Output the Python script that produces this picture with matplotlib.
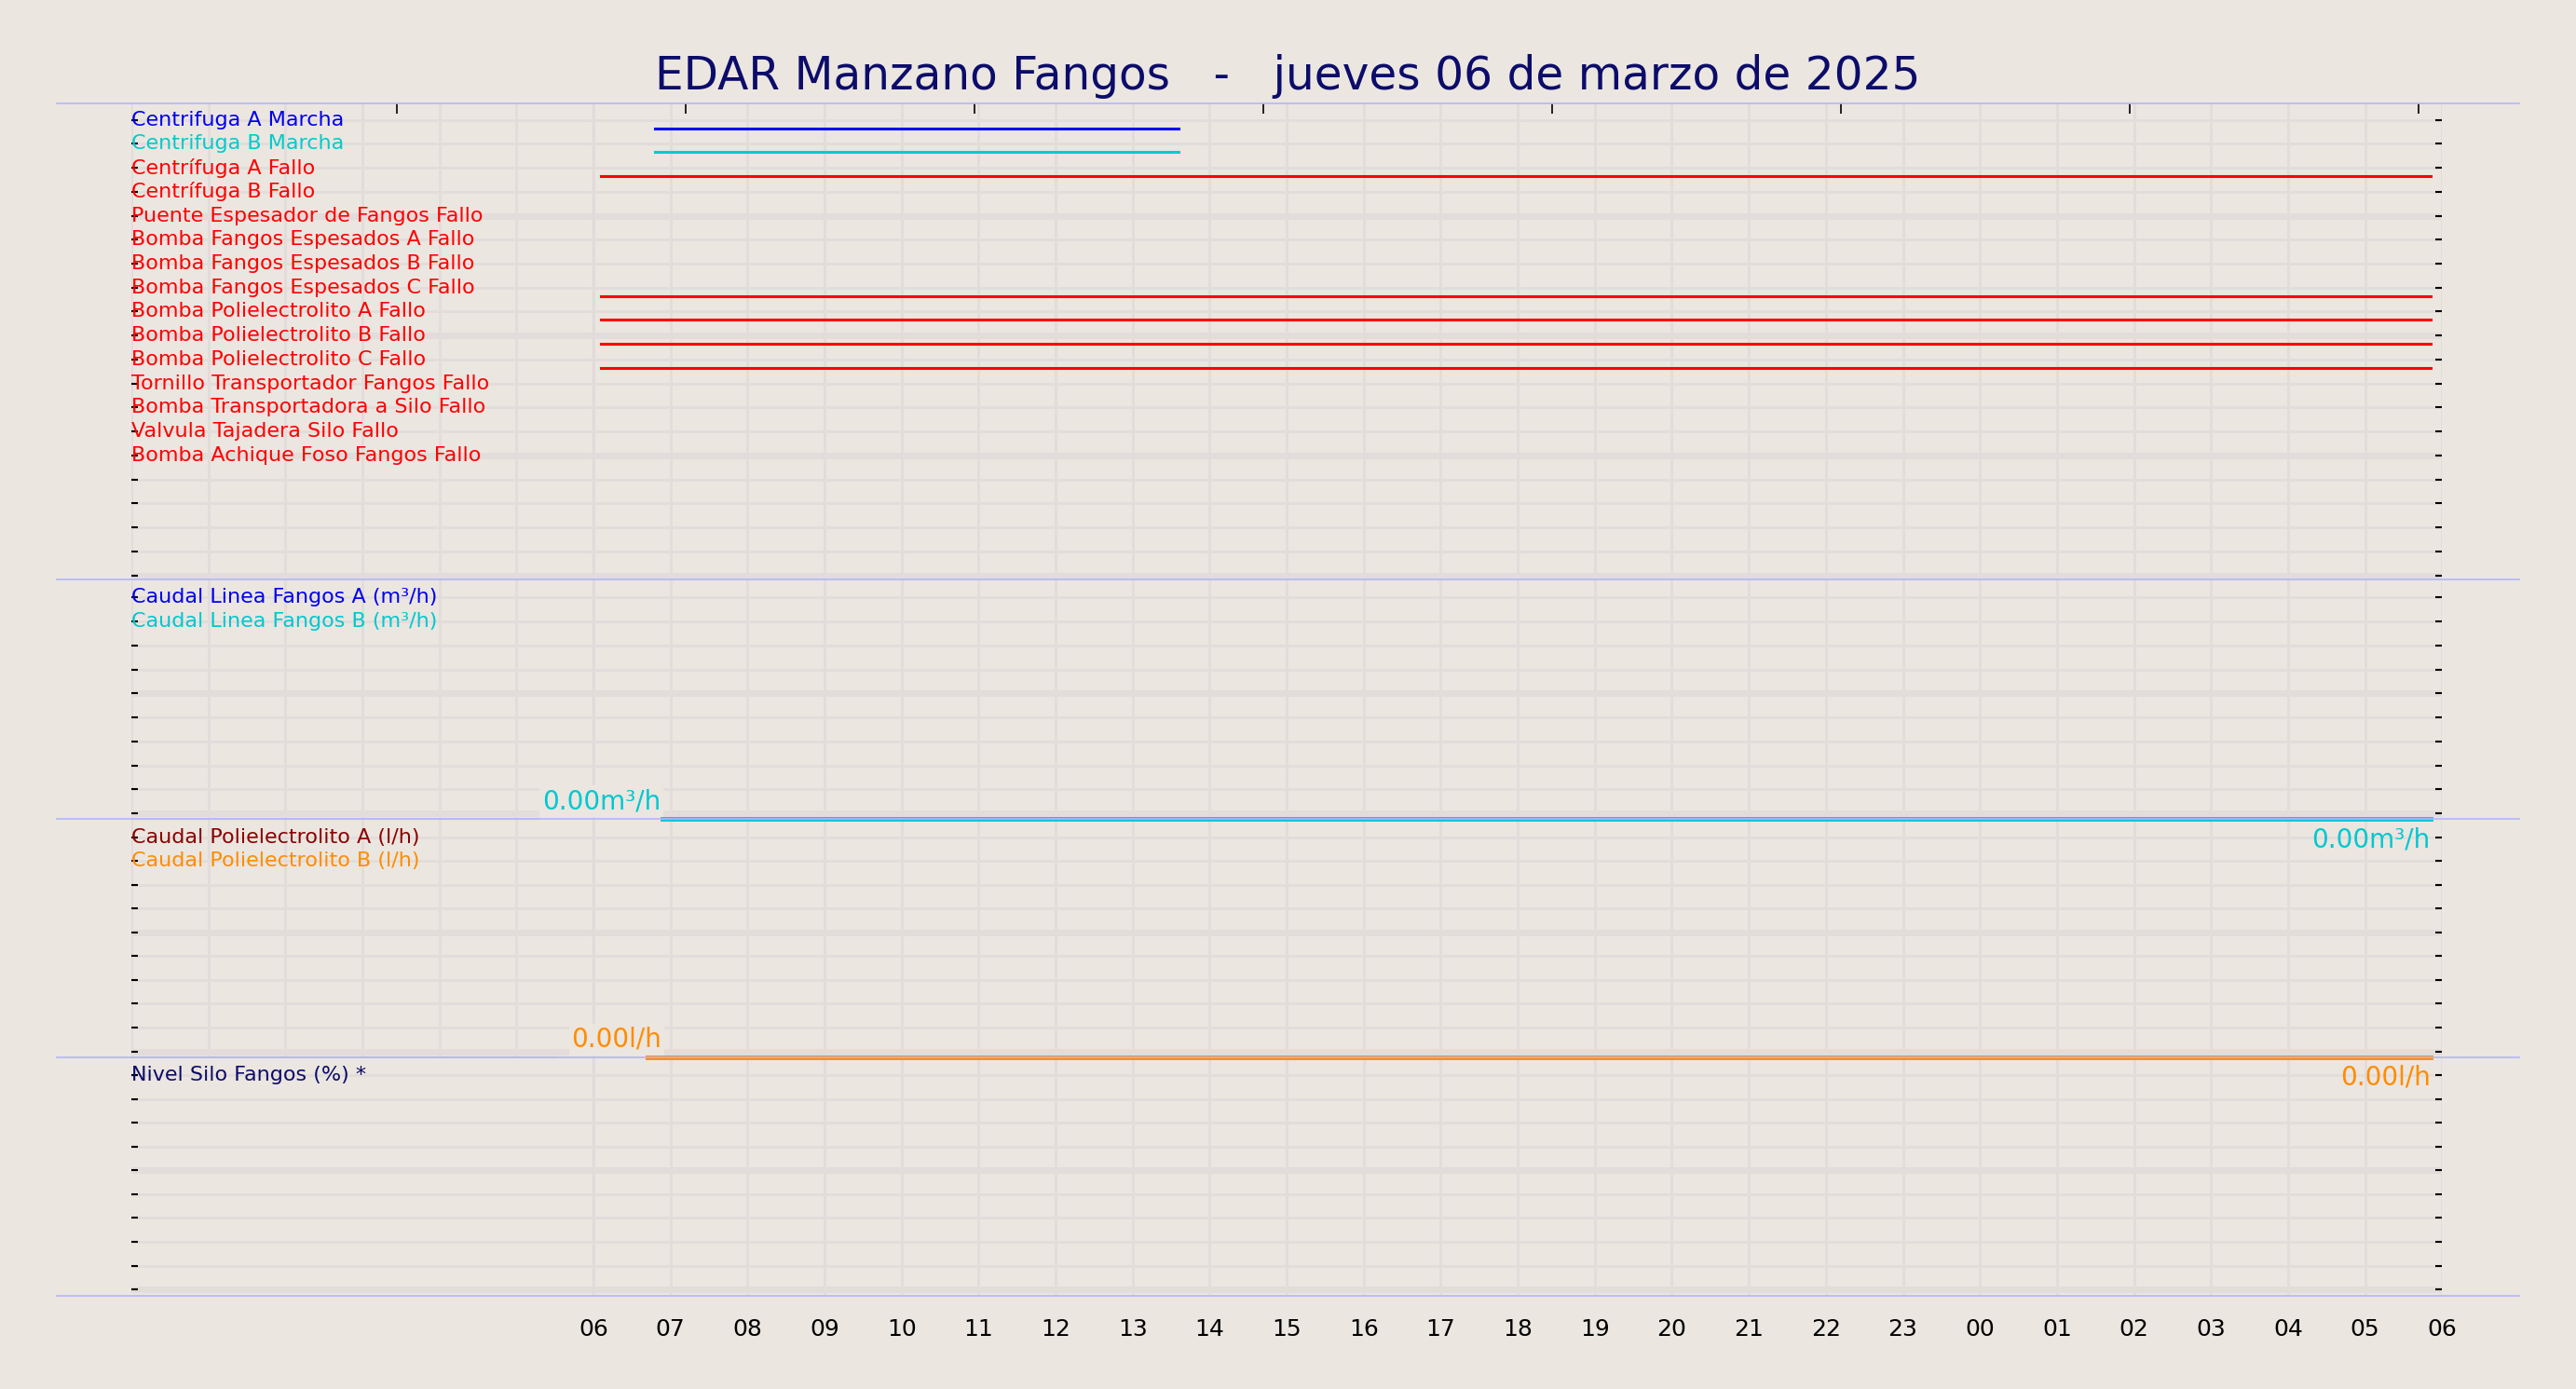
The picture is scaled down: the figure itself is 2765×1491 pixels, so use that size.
import matplotlib
matplotlib.use("Agg")
import matplotlib.pyplot as plt
from matplotlib.lines import Line2D
import numpy as np

BG = "#ebe6e0"
GRID = "#e2dcda"
EDGE = "#b4b4ff"

titulo = "EDAR Manzano Fangos   -   jueves 06 de marzo de 2025"

# senales digitales (inicio, fin en horas desde 00:00 del dia 06)
senales = ["Centrifuga A Marcha", "Centrifuga B Marcha", "Centrífuga A Fallo", "Centrífuga B Fallo",
           "Puente Espesador de Fangos Fallo", "Bomba Fangos Espesados A Fallo",
           "Bomba Fangos Espesados B Fallo", "Bomba Fangos Espesados C Fallo",
           "Bomba Polielectrolito A Fallo", "Bomba Polielectrolito B Fallo",
           "Bomba Polielectrolito C Fallo", "Tornillo Transportador Fangos Fallo",
           "Bomba Transportadora a Silo Fallo", "Valvula Tajadera Silo Fallo",
           "Bomba Achique Foso Fangos Fallo"]
colores_senal = ["#0000ee", "#00cccc"] + ["red"] * 13
tramos = {0: (6.8, 13.6), 1: (6.8, 13.6), 2: (6.1, 29.85), 7: (6.1, 29.85),
          8: (6.1, 29.85), 9: (6.1, 29.85), 10: (6.1, 29.85)}

# paneles analogicos
caudal_fangos = ["Caudal Linea Fangos A (m³/h)", "Caudal Linea Fangos B (m³/h)"]
caudal_poli = ["Caudal Polielectrolito A (l/h)", "Caudal Polielectrolito B (l/h)"]
nivel_silo = ["Nivel Silo Fangos (%) *"]
valor_caudal_fangos = 0.00
valor_caudal_poli = 0.00

horas = np.arange(6, 31)
etiquetas_horas = [f"{h % 24:02d}" for h in horas]

fig = plt.figure(figsize=(27.65, 14.91), dpi=100, facecolor=BG)
fig.text(0.5, 0.945, titulo, ha="center", va="center", fontsize=35, color="#0c0c6a")

L, W = 0.051, 0.897
bounds = [0.9255, 0.5827, 0.4102, 0.2388, 0.0674]
nrows = [20, 10, 10, 10]
axes = []
for i in range(4):
    top, bot = bounds[i], bounds[i + 1]
    ax = fig.add_axes([L, bot, W, top - bot], facecolor=BG)
    ax.set_zorder(10 - i)
    ax.set_xlim(0, 30)
    n = nrows[i]
    ax.set_ylim(n + 0.25 - (0.07 if i == 0 else 0), 0.32 if i == 0 else 0.25)
    ax.set_xticks(np.arange(0, 31), minor=False)
    ax.set_yticks(np.arange(1, n + 1))
    ax.grid(True, color=GRID, lw=2)
    for r in range(5, n + 1, 5):
        ax.axhline(r, color=GRID, lw=5, zorder=0.5)
    ax.tick_params(axis="y", left=True, right=True, labelleft=False, direction="in",
                   length=5, width=1.5)
    ax.tick_params(axis="x", bottom=False, labelbottom=False)
    for s in ax.spines.values():
        s.set_visible(False)
    ax.axvline(6, color=EDGE, lw=1.2, zorder=1)
    axes.append(ax)

# panel digital
ax = axes[0]
for k, (nom, col) in enumerate(zip(senales, colores_senal)):
    ax.text(0, k + 1, nom, color=col, fontsize=16, va="center", ha="left")
    if k in tramos:
        x0, x1 = tramos[k]
        ax.plot([x0, x1], [k + 1.35, k + 1.35], color=col, lw=2.2)
sec = ax.secondary_xaxis("top")
sec.set_xticks(np.arange(3.45, 30, 3.75))
sec.tick_params(direction="in", length=8, width=1.2, labeltop=False)
sec.spines["top"].set_visible(False)


def panel_analogico(ax, nombres, colores, valor, unidad, x_ini, x_etq):
    for k, (nom, col) in enumerate(zip(nombres, colores)):
        ax.text(0, k + 1, nom, color=col, fontsize=16, va="center", ha="left")
    tr = ax.get_xaxis_transform()
    ax.plot([0, x_etq - 0.8], [valor, valor], color="#d0ccd8", lw=1.5, transform=tr, clip_on=False)
    ax.plot([x_ini, 29.85], [valor, valor], color=colores[-1], lw=3.5, transform=tr,
            clip_on=False, zorder=3)
    ax.plot([x_ini, 29.85], [valor, valor], color=colores[-1], lw=1.2, alpha=0.5,
            transform=tr, clip_on=False, zorder=3)
    ax.text(x_etq, valor + 0.02, f"{valor:.2f}{unidad}", color=colores[-1], fontsize=20,
            ha="center", va="bottom", transform=tr,
            bbox=dict(facecolor=BG, edgecolor="none", pad=2))
    ax.text(29.85, valor - 0.03, f"{valor:.2f}{unidad}", color=colores[-1], fontsize=20,
            ha="right", va="top", transform=tr)


panel_analogico(axes[1], caudal_fangos, ["#0000ee", "#00c8d0"], valor_caudal_fangos, "m³/h", 6.9, 6.1)
panel_analogico(axes[2], caudal_poli, ["#8b0000", "#ff8c00"], valor_caudal_poli, "l/h", 6.7, 6.3)
axes[3].text(0, 1, nivel_silo[0], color="#0c0c6a", fontsize=16, va="center", ha="left")

# eje de horas
ax = axes[3]
ax.set_xticks(horas)
ax.set_xticklabels(etiquetas_horas, fontsize=18)
ax.tick_params(axis="x", bottom=False, labelbottom=True, pad=14)

for y in bounds:
    fig.add_artist(Line2D([0.022, 0.978], [y, y], color=EDGE, lw=1.2, zorder=20))

fig.savefig("out.png", dpi=100, facecolor=BG)
